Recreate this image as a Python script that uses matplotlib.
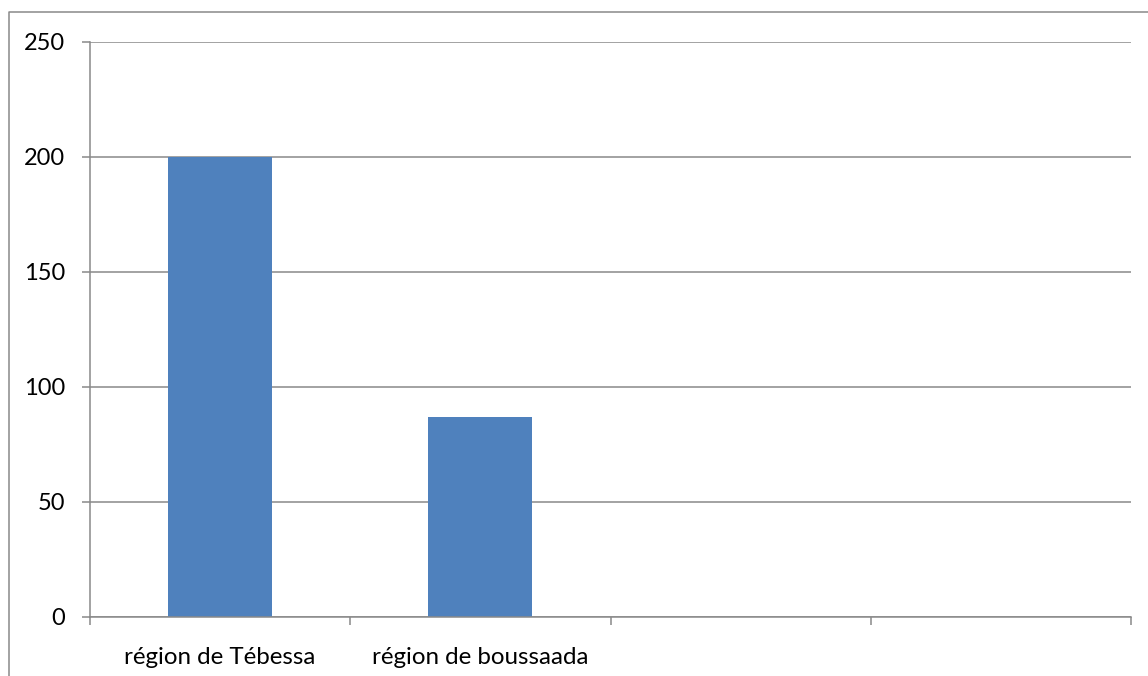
import numpy as np
import matplotlib
matplotlib.use("Agg")
import matplotlib.pyplot as plt
from matplotlib.lines import Line2D

plt.rcParams['font.family'] = ['Lato', 'DejaVu Sans']

# data
categories = ["région de Tébessa", "région de boussaada", "", ""]
values = [200, 87]
y_ticks = [0, 50, 100, 150, 200, 250]

bar_color = "#4F81BD"
grid_color = "#898989"

W, H = 1148, 676
fig = plt.figure(figsize=(W / 100, H / 100), dpi=100)
left, right, top, bottom = 90, 1131, 41.7, 616.7
ax = fig.add_axes([left / W, (H - bottom) / H, (right - left) / W, (bottom - top) / H])

x = np.arange(len(values))
ax.bar(x, values, width=0.4, color=bar_color, zorder=3)

ax.set_xlim(-0.5, len(categories) - 0.5)
ax.set_ylim(0, 250)
ax.set_yticks(y_ticks)
ax.yaxis.grid(True, color=grid_color, linewidth=1.1, zorder=0)

# tick marks on category boundaries, labels centred on categories
ax.set_xticks(np.arange(len(categories) + 1) - 0.5)
ax.set_xticklabels([])
ax.set_xticks(np.arange(len(categories)), minor=True)
ax.set_xticklabels(categories, minor=True)
ax.tick_params(axis="x", which="major", length=6, width=1.1, color=grid_color, direction="out")
ax.tick_params(axis="x", which="minor", length=0, pad=22, labelsize=17.4)
ax.tick_params(axis="y", length=6, width=1.1, color=grid_color, pad=12, labelsize=17)

for s in ["top", "right"]:
    ax.spines[s].set_visible(False)
for s in ["left", "bottom"]:
    ax.spines[s].set_color(grid_color)
    ax.spines[s].set_linewidth(1.1)
    ax.spines[s].set_zorder(4)

# outer chart frame (left and top edges visible)
fig.add_artist(Line2D([8.5 / W, 8.5 / W, 1.0], [0.0, (H - 12) / H, (H - 12) / H],
                      transform=fig.transFigure, color=grid_color, linewidth=1.1))

fig.savefig("out.png", dpi=100)
